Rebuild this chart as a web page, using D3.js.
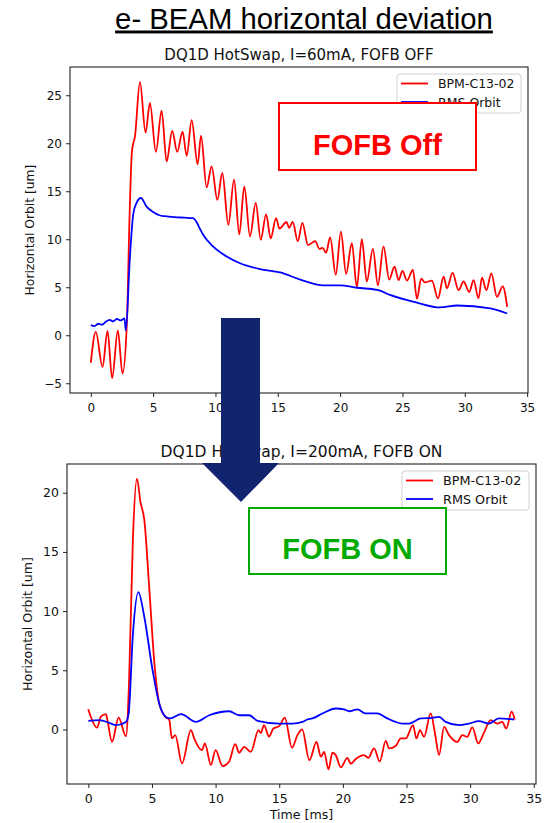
<!DOCTYPE html>
<html>
<head>
<meta charset="utf-8">
<script src="https://cdn.jsdelivr.net/npm/d3@7"></script>
<style>
  body { margin: 0; background: #fff; }
</style>
</head>
<body>
<script>
// ---- data ----
var xTicks = [0, 5, 10, 15, 20, 25, 30, 35];
var offYTicks = [-5, 0, 5, 10, 15, 20, 25];
var onYTicks = [0, 5, 10, 15, 20];
var seriesNames = ["BPM-C13-02", "RMS Orbit"];

// FOFB OFF, I=60mA : BPM-C13-02
var offBpmT = [0, 0.4, 0.94, 1.34, 1.71, 2.17, 2.54, 2.9, 3.1, 3.3, 3.55, 3.94, 4.39, 4.74, 5.22, 5.68, 6.08, 6.53, 6.93, 7.36, 7.69, 8.09, 8.57, 8.84, 9.29, 9.69, 10.15, 10.55, 11.03, 11.49, 11.91, 12.31, 12.77, 13.23, 13.63, 14.06, 14.43, 14.86, 15.13, 15.7, 15.9, 16.2, 16.6, 16.97, 17.42, 18.0, 18.34, 18.6, 18.87, 19.2, 19.65, 20.06, 20.48, 20.94, 21.34, 21.74, 22.14, 22.63, 23.03, 23.48, 23.94, 24.36, 24.69, 25.0, 25.36, 25.84, 26.16, 26.5, 26.8, 27.36, 27.85, 28.3, 28.57, 29.02, 29.5, 29.9, 30.36, 30.7, 31.1, 31.38, 31.73, 32.13, 32.58, 33.04, 33.4];
var offBpm = [-2.86, 0.35, -3.3, 0.45, -4.47, 0.52, -4.0, 1.5, 12, 19.2, 20.8, 26.4, 21.1, 24.2, 19.1, 23.4, 18.1, 21.3, 19.1, 21.2, 18.7, 22.4, 17.8, 20.8, 15.4, 17.6, 14.1, 16.9, 11.5, 16.2, 10.5, 15.5, 10.3, 13.8, 9.95, 12.6, 10.1, 12.2, 11.1, 11.8, 11.2, 11.8, 9.8, 11.7, 9.4, 9.8, 9.0, 9.1, 8.6, 10.2, 6.3, 10.8, 6.4, 9.6, 5.0, 10.0, 5.6, 9.0, 5.2, 9.25, 5.8, 7.15, 5.75, 6.7, 5.7, 6.8, 3.8, 5.9, 5.5, 5.7, 3.85, 6.1, 4.9, 6.5, 4.7, 5.6, 4.5, 5.75, 3.85, 6.0, 4.7, 6.45, 4.0, 5.1, 2.96];

// FOFB OFF : RMS Orbit
var offRmsT = [0, 0.3, 0.6, 0.9, 1.2, 1.5, 1.8, 2.1, 2.4, 2.7, 2.81, 3.13, 3.4, 3.67, 4.02, 4.47, 5.0, 5.5, 5.94, 6.75, 7.5, 8.2, 8.43, 8.75, 9.0, 9.8, 10.9, 11.97, 13.57, 15.18, 16.8, 18.66, 20.0, 21.34, 23.08, 24.0, 26.16, 28.0, 29.4, 32.05, 33.4];
var offRms = [1.05, 0.95, 1.2, 1.1, 1.4, 1.6, 1.45, 1.7, 1.55, 1.75, 0.5, 8.0, 12.6, 13.8, 14.3, 13.4, 12.85, 12.5, 12.4, 12.3, 12.25, 12.2, 11.9, 11.1, 10.5, 9.25, 8.2, 7.5, 6.9, 6.55, 5.8, 5.2, 5.2, 4.95, 4.7, 4.2, 3.4, 2.9, 3.1, 2.8, 2.27];

// FOFB ON, I=200mA : BPM-C13-02
var onBpmT = [0, 0.2, 0.68, 1.0, 1.39, 1.5, 1.86, 2.38, 2.96, 3.2, 3.5, 3.82, 4.1, 4.4, 4.8, 5.2, 5.57, 6.05, 6.36, 6.57, 6.83, 7.36, 8.06, 8.32, 8.93, 9.16, 9.63, 10.0, 10.55, 11.07, 11.54, 11.85, 12.24, 12.77, 13.37, 13.56, 13.8, 14.2, 14.54, 15.0, 15.44, 16.0, 16.43, 16.8, 17.37, 17.93, 18.27, 18.53, 18.87, 19.18, 19.44, 19.84, 20.36, 20.62, 21.01, 21.67, 22.0, 22.45, 22.9, 23.37, 23.63, 24.15, 24.55, 24.94, 25.51, 25.78, 26.06, 26.38, 26.9, 27.24, 27.56, 27.95, 28.34, 28.99, 29.38, 29.77, 30.17, 30.64, 31.08, 31.61, 32.13, 32.52, 32.84, 33.26, 33.5];
var onBpm = [1.7, 1.05, 0.15, 1.1, 1.3, 0.8, -1.05, 1.0, -0.57, 4, 16, 21.2, 19.2, 17.7, 11.75, 5.5, 2.2, 1.06, 0.8, -0.76, -0.48, -2.87, -0.06, -0.76, -1.75, -1.18, -3.0, -1.75, -3.1, -2.7, -1.24, -1.97, -1.47, -1.9, -0.06, -0.3, 0.36, -0.6, 0.08, 0.28, 1.0, -1.55, -0.48, 0.0, -2.6, -1.05, -2.3, -1.9, -3.38, -1.97, -2.17, -3.2, -2.4, -2.9, -2.5, -2.17, -2.4, -1.6, -2.7, -0.96, -1.6, -1.4, -0.76, -0.76, 0.36, -0.76, -0.06, -0.62, 1.35, -0.34, -2.17, 0.22, -0.48, -1.05, -0.48, -0.62, 0.17, -1.18, -0.29, 0.78, 0.5, 0.64, 0.08, 1.5, 0.84];

// FOFB ON : RMS Orbit
var onRmsT = [0, 0.86, 1.65, 2.17, 2.96, 3.17, 3.5, 3.93, 4.4, 5.05, 5.57, 6.1, 6.44, 7.28, 8.46, 9.5, 11.07, 11.85, 12.64, 13.3, 15.0, 16.04, 16.83, 17.2, 17.6, 18.4, 19.44, 20.1, 20.49, 21.14, 21.8, 22.71, 23.49, 24.67, 25.2, 26.11, 27.03, 27.56, 28.08, 29.12, 29.9, 30.7, 31.47, 32.26, 33.44];
var onRms = [0.73, 0.78, 0.56, 0.36, 0.64, 1.35, 8, 11.6, 9.5, 5.0, 2.2, 1.06, 0.93, 1.3, 0.64, 1.2, 1.54, 1.2, 1.2, 0.73, 0.5, 0.5, 0.64, 0.84, 0.93, 1.35, 1.77, 1.69, 1.54, 1.69, 1.35, 1.35, 0.93, 0.5, 0.5, 0.93, 0.98, 1.06, 0.64, 0.36, 0.5, 0.7, 0.5, 0.93, 0.84];

var W = 544, H = 823;
var MPL = "DejaVu Sans, sans-serif";
var SLIDE = "Liberation Sans, Arial, sans-serif";

var svg = d3.select("body").append("svg")
    .attr("width", W)
    .attr("height", H)
    .attr("font-family", MPL);

// matplotlib style 5% margins
function padded(ext) {
  var m = (ext[1] - ext[0]) * 0.05;
  return [ext[0] - m, ext[1] + m];
}

function zip(t, v) {
  return t.map(function(d, i) { return [d, v[i]]; });
}

function drawPanel(p) {
  var g = svg.append("g");
  var x = d3.scaleLinear()
      .domain(padded(d3.extent(p.bpmT.concat(p.rmsT))))
      .range([p.left, p.right]);
  var y = d3.scaleLinear()
      .domain(padded(d3.extent(p.bpm.concat(p.rms))))
      .range([p.bottom, p.top]);

  var line = d3.line()
      .x(function(d) { return x(d[0]); })
      .y(function(d) { return y(d[1]); })
      .curve(d3.curveMonotoneX);

  g.append("path")
      .datum(zip(p.bpmT, p.bpm))
      .attr("d", line)
      .attr("fill", "none")
      .attr("stroke", "#ff0000")
      .attr("stroke-width", 1.8);
  g.append("path")
      .datum(zip(p.rmsT, p.rms))
      .attr("d", line)
      .attr("fill", "none")
      .attr("stroke", "#0000ff")
      .attr("stroke-width", 1.8);

  // frame
  g.append("rect")
      .attr("x", p.left).attr("y", p.top)
      .attr("width", p.right - p.left).attr("height", p.bottom - p.top)
      .attr("fill", "none").attr("stroke", "#222").attr("stroke-width", 1.1);

  var xa = g.append("g")
      .attr("transform", "translate(0," + p.bottom + ")")
      .call(d3.axisBottom(x).tickValues(xTicks).tickSize(4).tickPadding(6).tickFormat(d3.format("d")));
  var ya = g.append("g")
      .attr("transform", "translate(" + p.left + ",0)")
      .call(d3.axisLeft(y).tickValues(p.yTicks).tickSize(4).tickPadding(4).tickFormat(d3.format("d")));
  [xa, ya].forEach(function(a) {
    a.attr("font-family", MPL);
    a.select(".domain").remove();
    a.selectAll("line").attr("stroke", "#222");
    a.selectAll("text").attr("fill", "#111").attr("font-size", p.tickFont);
  });

  g.append("text")
      .attr("x", (p.left + p.right) / 2)
      .attr("y", p.top - 7.5)
      .attr("text-anchor", "middle")
      .attr("font-size", p.titleFont)
      .attr("fill", "#111")
      .text(p.title);

  g.append("text")
      .attr("transform", "translate(" + p.ylabelX + "," + ((p.top + p.bottom) / 2) + ") rotate(-90)")
      .attr("text-anchor", "middle")
      .attr("font-size", p.labelFont)
      .attr("fill", "#111")
      .text("Horizontal Orbit [um]");

  if (p.xlabel) {
    g.append("text")
        .attr("x", (p.left + p.right) / 2)
        .attr("y", p.bottom + 35)
        .attr("text-anchor", "middle")
        .attr("font-size", p.labelFont)
        .attr("fill", "#111")
        .text(p.xlabel);
  }

  // legend, upper right
  var lw = p.legendW, lh = 39;
  var lx = p.right - 7 - lw, ly = p.top + 7;
  var lg = g.append("g");
  lg.append("rect")
      .attr("x", lx).attr("y", ly).attr("width", lw).attr("height", lh)
      .attr("rx", 3).attr("fill", "#fff").attr("fill-opacity", 0.8)
      .attr("stroke", "#d0d0d0");
  var colors = ["#ff0000", "#0000ff"];
  seriesNames.forEach(function(name, i) {
    var yy = ly + 9.5 + i * 18.5;
    lg.append("line")
        .attr("x1", lx + 4).attr("x2", lx + 31)
        .attr("y1", yy).attr("y2", yy)
        .attr("stroke", colors[i]).attr("stroke-width", 1.8);
    lg.append("text")
        .attr("x", lx + 41).attr("y", yy)
        .attr("dy", "0.36em")
        .attr("font-size", p.legendFont)
        .attr("fill", "#111")
        .text(name);
  });

  // annotation box pasted over the plot
  g.append("rect")
      .attr("x", p.note.x).attr("y", p.note.y)
      .attr("width", p.note.w).attr("height", p.note.h)
      .attr("fill", "#fff").attr("stroke", p.note.color).attr("stroke-width", 2);
  g.append("text")
      .attr("x", p.note.x + p.note.w / 2)
      .attr("y", p.note.y + p.note.h / 2 + 18)
      .attr("text-anchor", "middle")
      .attr("font-family", SLIDE)
      .attr("font-weight", "bold")
      .attr("font-size", 29)
      .attr("fill", p.note.color)
      .text(p.note.text);
}

// page title
svg.append("text")
    .attr("x", 304).attr("y", 28.5)
    .attr("text-anchor", "middle")
    .attr("font-family", SLIDE)
    .attr("font-size", 29.3)
    .attr("text-decoration", "underline")
    .attr("fill", "#000")
    .text("e- BEAM horizontal deviation");

drawPanel({
  left: 70, right: 528, top: 67, bottom: 393,
  bpmT: offBpmT, bpm: offBpm, rmsT: offRmsT, rms: offRms,
  yTicks: offYTicks,
  title: "DQ1D HotSwap, I=60mA, FOFB OFF",
  titleFont: 15, tickFont: 12, labelFont: 12.3, legendFont: 12.5,
  ylabelX: 34, legendW: 124,
  note: {x: 279, y: 103, w: 197, h: 67, color: "#ff0000", text: "FOFB Off"}
});

drawPanel({
  left: 67, right: 536, top: 464, bottom: 784,
  bpmT: onBpmT, bpm: onBpm, rmsT: onRmsT, rms: onRms,
  yTicks: onYTicks,
  title: "DQ1D HotSwap, I=200mA, FOFB ON",
  titleFont: 15.5, tickFont: 12.5, labelFont: 12.6, legendFont: 12.8,
  ylabelX: 32, legendW: 127, xlabel: "Time [ms]",
  note: {x: 249, y: 508, w: 197, h: 66, color: "#00aa00", text: "FOFB ON"}
});

// arrow between the two panels
svg.append("path")
    .attr("d", d3.line()([[221, 318], [260, 318], [260, 463], [279, 463], [241, 502], [202, 463], [221, 463]]) + "Z")
    .attr("fill", "#13246e");
</script>
</body>
</html>
